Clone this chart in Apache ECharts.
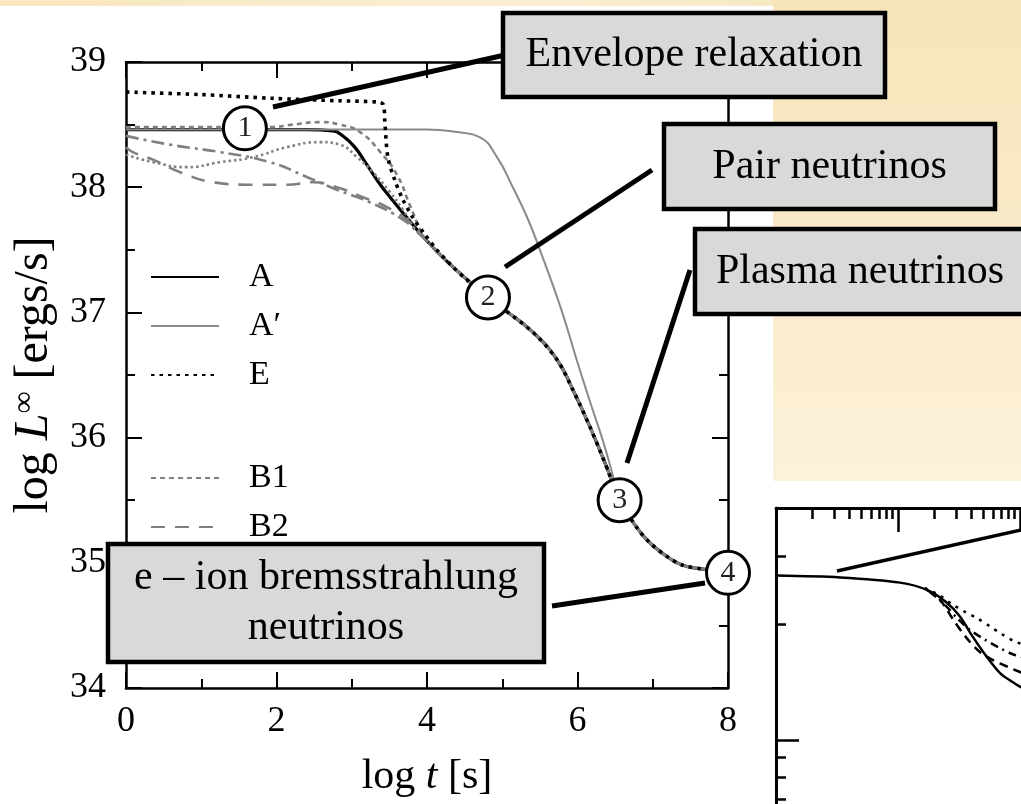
<!DOCTYPE html>
<html>
<head>
<meta charset="utf-8">
<script src="https://cdn.jsdelivr.net/npm/echarts@6/dist/echarts.min.js"></script>
<style>
  html, body { margin: 0; padding: 0; background: #ffffff; }
  #chart { width: 1021px; height: 804px; }
</style>
</head>
<body>
<div id="chart"></div>
<script>
// ---- Cooling curves: log L (ergs/s) against log t (s) ----
const xTicks = [0, 2, 4, 6, 8];
const yTicks = [34, 35, 36, 37, 38, 39];

// shared late-time branch that every model follows
const tailT = [4.0, 4.21, 4.48, 4.81, 5.01, 5.41, 5.73, 5.94, 6.17, 6.39, 6.56, 6.79, 6.96, 7.19, 7.40, 7.67, 8.0];
const tailL = [37.57, 37.44, 37.29, 37.12, 37.03, 36.84, 36.62, 36.38, 36.08, 35.76, 35.50, 35.28, 35.16, 35.05, 34.98, 34.95, 34.92];

const tA = [0, 0.5, 1.0, 1.5, 2.0, 2.4, 2.75, 2.88, 3.04, 3.20, 3.38, 3.51, 3.77];
const lA = [38.46, 38.46, 38.46, 38.46, 38.46, 38.46, 38.45, 38.41, 38.32, 38.18, 38.02, 37.92, 37.73];

const tAp = [0, 1, 2, 3, 4, 4.40, 4.70, 4.93, 5.14, 5.33, 5.50, 5.73, 5.87, 5.99, 6.17, 6.34, 6.46];
const lAp = [38.46, 38.46, 38.46, 38.46, 38.46, 38.44, 38.40, 38.24, 38.00, 37.76, 37.50, 37.12, 36.86, 36.62, 36.28, 35.97, 35.72];

const tE = [0, 0.98, 1.94, 2.84, 3.35, 3.42, 3.44, 3.48, 3.57, 3.68, 3.81, 3.95, 4.13, 4.35, 4.53];
const lE = [38.76, 38.74, 38.71, 38.69, 38.68, 38.66, 38.52, 38.24, 38.06, 37.90, 37.76, 37.64, 37.50, 37.36, 37.26];

const tB1 = [0, 1.0, 1.58, 1.91, 2.22, 2.58, 2.84, 3.11, 3.38, 3.60, 3.77, 3.91];
const lB1 = [38.48, 38.48, 38.48, 38.48, 38.50, 38.52, 38.50, 38.44, 38.28, 38.10, 37.86, 37.66];

const tB2 = [0, 0.09, 0.36, 0.72, 1.16, 1.61, 2.14, 2.49, 2.80, 3.15, 3.47, 3.77];
const lB2 = [38.32, 38.28, 38.22, 38.12, 38.04, 38.02, 38.02, 38.04, 38.00, 37.92, 37.84, 37.72];

const tC = [0, 0.58, 1.25, 1.91, 2.41, 2.80, 3.24, 3.68, 3.91];
const lC = [38.41, 38.34, 38.28, 38.20, 38.08, 37.98, 37.88, 37.74, 37.62];

const tD = [0, 0.36, 0.81, 1.25, 1.69, 2.14, 2.58, 2.84, 3.07, 3.28, 3.51, 3.68, 3.85];
const lD = [38.26, 38.20, 38.16, 38.20, 38.24, 38.32, 38.36, 38.34, 38.24, 38.12, 37.96, 37.82, 37.66];

// numbered stages on the cooling track
const stageT = [1.58, 4.81, 6.56, 8.0];
const stageL = [38.47, 37.12, 35.50, 34.92];
const stageNames = ['1', '2', '3', '4'];

// small log-log panel
const insetT = [1, 3.35, 10.4, 17.3, 25.2, 32.2, 41.1, 53.6, 68.6, 87.6, 101.7, 145];
const insetL = [26.7, 26.4, 25.6, 24.5, 22.7, 20.9, 18.5, 16.4, 14.9, 14.1, 13.7, 13.2];
const insetT1 = [16.6, 22.1, 27.7, 35.4, 44.4, 56.8, 71.2, 91.0, 146];
const insetL1 = [24.8, 23.7, 22.5, 21.5, 20.7, 19.7, 18.8, 18.0, 17.1];
const insetT2 = [18.3, 24.3, 30.5, 38.9, 51.6, 68.6, 91.0, 146];
const insetL2 = [24.2, 22.4, 20.7, 19.3, 18.2, 17.3, 16.6, 16.0];
const insetT3 = [17.3, 22.1, 29.3, 37.5, 47.0, 60.1, 78.2, 100, 146];
const insetL3 = [24.5, 23.1, 20.2, 18.2, 16.9, 16.1, 15.5, 15.0, 14.3];
const insetMinorX = [2, 3, 4, 5, 6, 7, 8, 9, 20, 30, 40, 50, 60, 70, 80, 90];
const insetMajorX = [10, 100];
const insetMinorY = [7, 8, 9, 20, 30];
const insetMajorY = [10];

const SERIF = 'Liberation Serif';
const GREY = '#808080';

function pairs(t, l) { return t.map((v, i) => [v, l[i]]); }
function withTail(t, l, from) {
  const out = pairs(t, l);
  tailT.forEach((v, i) => { if (v >= from) out.push([v, tailL[i]]); });
  return out;
}

// frame of the main plot: inward ticks on all four sides
function frameTick() { return { show: true, inside: true, length: 16, lineStyle: { color: '#000', width: 2 } }; }
function frameMinor() { return { show: true, splitNumber: 2, length: 9, lineStyle: { color: '#000', width: 2 } }; }
function frameLine() { return { show: true, onZero: false, lineStyle: { color: '#000', width: 2.5 } }; }

function lineSeries(name, data, color, width, type, z, smooth) {
  return {
    name, type: 'line', data, xAxisIndex: 0, yAxisIndex: 0,
    symbol: 'none', smooth: smooth || 0.5, z: z || 2,
    lineStyle: { color, width, type, cap: 'butt' },
    itemStyle: { color },
    emphasis: { disabled: true }
  };
}
function insetSeries(name, t, l, type) {
  return {
    name, type: 'line', data: pairs(t, l), xAxisIndex: 2, yAxisIndex: 2,
    symbol: 'none', smooth: 0.3, clip: true,
    lineStyle: { color: '#000', width: 2.5, type },
    emphasis: { disabled: true }
  };
}

const legendText = { fontFamily: SERIF, fontSize: 34, color: '#000', lineHeight: 34, padding: [0, 0, 0, 25] };
const legendBase = { orient: 'vertical', left: 150, padding: 0, itemWidth: 68, itemHeight: 14, itemGap: 15,
  selectedMode: false, itemStyle: { opacity: 0 }, textStyle: legendText };

function box(x, y, w, h, lines) {
  return [
    { type: 'rect', z: 100, shape: { x, y, width: w, height: h },
      style: { fill: '#d9d9d9', stroke: '#000', lineWidth: 4.5 } },
    { type: 'text', z: 101, x: x + w / 2, y: y + h / 2,
      style: { text: lines, fill: '#000', font: '42px "Liberation Serif"', align: 'center', verticalAlign: 'middle', lineHeight: 50 } }
  ];
}
function leader(x1, y1, x2, y2, w) {
  return { type: 'line', z: 90, shape: { x1, y1, x2, y2 }, style: { stroke: '#000', lineWidth: w || 5 } };
}

const chart = echarts.init(document.getElementById('chart'), null, { renderer: 'canvas' });

const xMin = xTicks[0], xMax = xTicks[xTicks.length - 1];
const yMin = yTicks[0], yMax = yTicks[yTicks.length - 1];

const option = {
  animation: false,
  backgroundColor: '#ffffff',
  grid: [
    { left: 126, top: 62, width: 602, height: 626 },
    { left: 776, top: 508, right: 0, bottom: 0 }
  ],
  xAxis: [
    { type: 'value', gridIndex: 0, position: 'bottom', min: xMin, max: xMax, interval: 2,
      axisLine: frameLine(), axisTick: frameTick(), minorTick: frameMinor(), splitLine: { show: false },
      axisLabel: { fontFamily: SERIF, fontSize: 36, color: '#000', margin: 16 },
      name: '{n|log }{i|t}{n| [s]}', nameLocation: 'middle', nameGap: 68,
      nameTextStyle: { color: '#000', rich: {
        n: { fontFamily: SERIF, fontSize: 42, color: '#000' },
        i: { fontFamily: SERIF, fontSize: 42, fontStyle: 'italic', color: '#000' } } } },
    { type: 'value', gridIndex: 0, position: 'top', min: xMin, max: xMax, interval: 2,
      axisLine: frameLine(), axisTick: frameTick(), minorTick: frameMinor(), splitLine: { show: false },
      axisLabel: { show: false } },
    { type: 'log', gridIndex: 1, position: 'top', min: 1, max: 102, logBase: 10,
      axisLine: { show: true, lineStyle: { color: '#000', width: 3 } },
      axisTick: { inside: true, length: 11, customValues: insetMinorX, lineStyle: { color: '#000', width: 2.5 } },
      axisLabel: { show: false }, splitLine: { show: false } },
    { type: 'log', gridIndex: 1, position: 'top', min: 1, max: 102, logBase: 10,
      axisLine: { show: false },
      axisTick: { inside: true, length: 24, customValues: insetMajorX, lineStyle: { color: '#000', width: 2.5 } },
      axisLabel: { show: false }, splitLine: { show: false } }
  ],
  yAxis: [
    { type: 'value', gridIndex: 0, position: 'left', min: yMin, max: yMax, interval: 1,
      axisLine: frameLine(), axisTick: frameTick(), minorTick: frameMinor(), splitLine: { show: false },
      axisLabel: { fontFamily: SERIF, fontSize: 36, color: '#000', margin: 20 },
      name: '{n|log }{i|L}{s|∞}{n| [ergs/s]}', nameLocation: 'middle', nameGap: 66, nameRotate: 90,
      nameTextStyle: { color: '#000', rich: {
        n: { fontFamily: SERIF, fontSize: 48, color: '#000' },
        i: { fontFamily: SERIF, fontSize: 48, fontStyle: 'italic', color: '#000' },
        s: { fontFamily: SERIF, fontSize: 31, color: '#000', padding: [0, 0, 20, 0] } } } },
    { type: 'value', gridIndex: 0, position: 'right', min: yMin, max: yMax, interval: 1,
      axisLine: frameLine(), axisTick: frameTick(), minorTick: frameMinor(), splitLine: { show: false },
      axisLabel: { show: false } },
    { type: 'log', gridIndex: 1, position: 'left', min: 6.81, max: 40, logBase: 10,
      axisLine: { show: true, lineStyle: { color: '#000', width: 3 } },
      axisTick: { inside: true, length: 10, customValues: insetMinorY, lineStyle: { color: '#000', width: 2.5 } },
      axisLabel: { show: false }, splitLine: { show: false } },
    { type: 'log', gridIndex: 1, position: 'left', min: 6.81, max: 40, logBase: 10,
      axisLine: { show: false },
      axisTick: { inside: true, length: 23, customValues: insetMajorY, lineStyle: { color: '#000', width: 2.5 } },
      axisLabel: { show: false }, splitLine: { show: false } }
  ],
  legend: [
    Object.assign({ data: ['A', 'A′', 'E'], top: 260 }, legendBase),
    Object.assign({ data: ['B1', 'B2'], top: 461 }, legendBase)
  ],
  series: [
    lineSeries('A', withTail(tA, lA, 4.0), '#000000', 3.2, 'solid', 2),
    lineSeries('A′', withTail(tAp, lAp, 6.56), '#8a8a8a', 2, 'solid', 2),
    lineSeries('B1', withTail(tB1, lB1, 4.0), GREY, 2.6, [5, 4], 2),
    lineSeries('B2', withTail(tB2, lB2, 4.0), GREY, 2.6, [14, 10], 2),
    lineSeries('C', withTail(tC, lC, 4.0), GREY, 2.6, [13, 5, 3, 5], 2),
    lineSeries('D', withTail(tD, lD, 4.0), GREY, 2.6, [2.5, 3], 2),
    lineSeries('E', withTail(tE, lE, 4.81), '#000000', 3.6, [3.5, 5], 3, 0.3),
    {
      name: 'stages', type: 'scatter', xAxisIndex: 0, yAxisIndex: 0, z: 5, clip: false,
      data: stageT.map((t, i) => [t, stageL[i], stageNames[i]]),
      symbol: 'circle', symbolSize: 43,
      itemStyle: { color: '#ffffff', borderColor: '#000000', borderWidth: 3, opacity: 1 },
      label: { show: true, position: 'inside', formatter: p => p.value[2],
        fontFamily: SERIF, fontSize: 30, color: '#222' },
      emphasis: { disabled: true }
    },
    insetSeries('inset', insetT, insetL, 'solid'),
    insetSeries('inset1', insetT1, insetL1, [3, 6]),
    insetSeries('inset2', insetT2, insetL2, [8, 5, 2, 5]),
    insetSeries('inset3', insetT3, insetL3, [9, 6])
  ],
  graphic: [
    // parchment strips around the white figure
    { type: 'rect', z: -10, shape: { x: 0, y: 0, width: 1021, height: 6 },
      style: { fill: new echarts.graphic.LinearGradient(0, 0, 1, 0, [
        { offset: 0, color: '#f8e6bf' }, { offset: 0.5, color: '#fbeed2' }, { offset: 1, color: '#f6e2b6' }]) } },
    { type: 'rect', z: -10, shape: { x: 773, y: 0, width: 248, height: 481 },
      style: { fill: new echarts.graphic.LinearGradient(0, 0, 0, 1, [
        { offset: 0, color: '#f7e4b9' }, { offset: 0.5, color: '#f9eac8' }, { offset: 1, color: '#fcf1da' }]) } },
    leader(273, 107, 505, 55),
    leader(505, 267, 652, 170),
    leader(627, 463, 690, 270),
    leader(552, 606, 705, 583),
    leader(837, 571, 1030, 528, 3.5),
    ...box(503, 13, 382, 84, 'Envelope relaxation'),
    ...box(664, 124, 331, 85, 'Pair neutrinos'),
    ...box(695, 229, 330, 85, 'Plasma neutrinos'),
    ...box(108, 544, 436, 118, 'e – ion bremsstrahlung\nneutrinos')
  ]
};

chart.setOption(option);
</script>
</body>
</html>
